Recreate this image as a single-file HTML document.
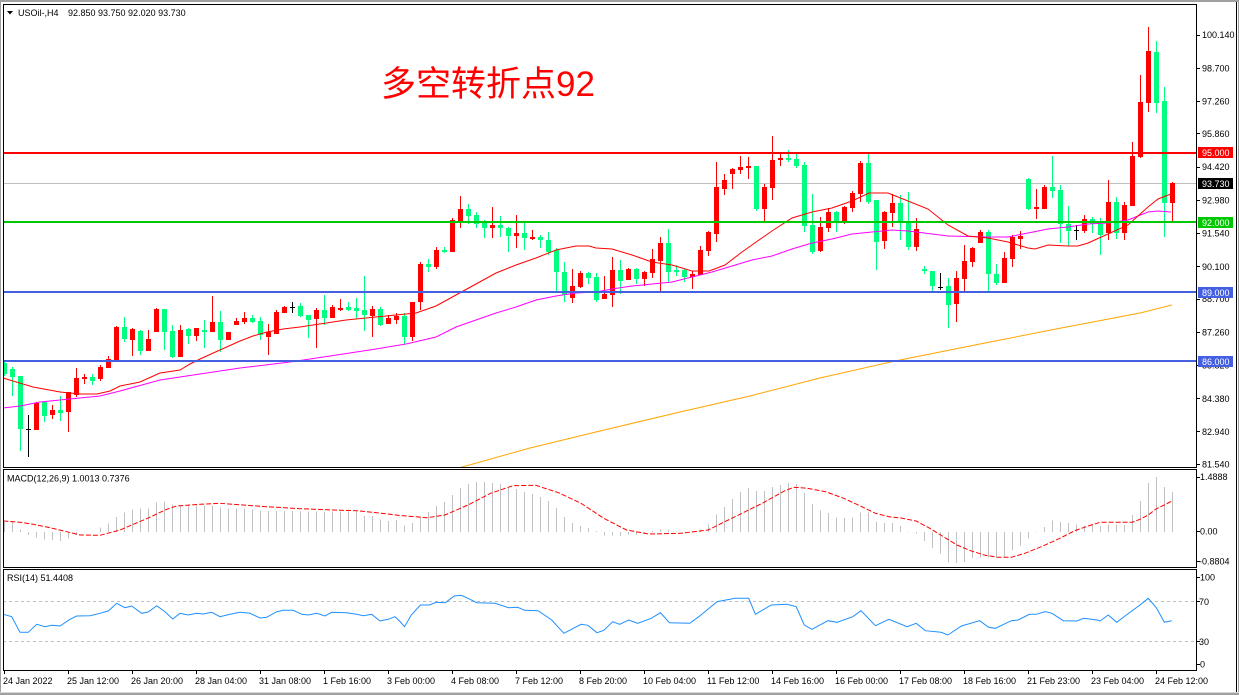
<!DOCTYPE html>
<html><head><meta charset="utf-8"><style>
html,body{margin:0;padding:0;background:#fff;width:1239px;height:695px;overflow:hidden}
svg{display:block}
text{font-family:"Liberation Sans",sans-serif;font-size:9px;fill:#000}
</style></head><body>
<svg width="1239" height="695" viewBox="0 0 1239 695" xmlns="http://www.w3.org/2000/svg">
<defs>
<clipPath id="mainc"><rect x="4" y="5" width="1192" height="462"/></clipPath>
<clipPath id="macdc"><rect x="4" y="470" width="1192" height="97"/></clipPath>
<clipPath id="rsic"><rect x="4" y="570" width="1192" height="100"/></clipPath>
</defs>
<rect width="1239" height="695" fill="#fff"/>
<rect x="0" y="0" width="1239" height="2" fill="#a0a0a0"/>
<rect x="0" y="0" width="1" height="695" fill="#a0a0a0"/>
<rect x="1238" y="0" width="1" height="695" fill="#a0a0a0"/>
<rect x="1236" y="2" width="1" height="691" fill="#000"/>
<rect x="0" y="692" width="1239" height="1" fill="#d8d8d8"/>
<rect x="0" y="693" width="1239" height="2" fill="#a0a0a0"/>

<g clip-path="url(#mainc)" shape-rendering="crispEdges">
<path d="M3 183.5H1196" stroke="#c0c0c0" stroke-width="1"/>
<path fill="#ff0000" d="M34 403h5v27h-5zM50 410h5v5h-5zM66 392h5v20h-5zM74 378h5v17h-5zM82 377h5v2h-5zM98 367h5v12h-5zM106 359h5v9h-5zM114 327h5v33h-5zM130 329h5v11h-5zM146 339h5v12h-5zM154 309h5v23h-5zM178 330h5v27h-5zM194 328h5v8h-5zM210 322h5v10h-5zM226 332h5v8h-5zM234 321h5v4h-5zM242 318h5v4h-5zM266 332h5v5h-5zM274 312h5v22h-5zM282 307h5v6h-5zM314 310h5v9h-5zM330 307h5v11h-5zM338 308h5v2h-5zM370 309h5v7h-5zM386 318h5v6h-5zM394 316h5v4h-5zM410 302h5v35h-5zM418 264h5v38h-5zM434 250h5v17h-5zM450 220h5v32h-5zM458 209h5v12h-5zM490 225h5v3h-5zM514 233h5v3h-5zM530 237h5v2h-5zM570 286h5v12h-5zM578 273h5v14h-5zM602 294h5v5h-5zM610 270h5v25h-5zM626 269h5v11h-5zM642 272h5v7h-5zM650 259h5v14h-5zM658 243h5v18h-5zM690 274h5v3h-5zM698 250h5v25h-5zM706 232h5v19h-5zM714 187h5v47h-5zM722 180h5v9h-5zM730 169h5v5h-5zM738 167h5v3h-5zM746 166h5v2h-5zM762 187h5v22h-5zM770 160h5v28h-5zM778 158h5v2h-5zM818 227h5v24h-5zM826 212h5v16h-5zM842 207h5v16h-5zM850 193h5v15h-5zM858 163h5v31h-5zM882 212h5v29h-5zM890 203h5v10h-5zM914 229h5v18h-5zM954 278h5v26h-5zM962 261h5v18h-5zM970 248h5v14h-5zM978 232h5v11h-5zM1002 258h5v25h-5zM1010 237h5v22h-5zM1018 236h5v3h-5zM1034 207h5v2h-5zM1042 187h5v22h-5zM1082 219h5v12h-5zM1106 202h5v31h-5zM1122 205h5v28h-5zM1130 156h5v50h-5zM1138 102h5v55h-5zM1146 51h5v52h-5zM1170 183h5v20h-5z"/>
<path stroke="#ff0000" stroke-width="1" fill="none" d="M36.5 402V430M52.5 405V419M68.5 392V432M76.5 368V397M84.5 374V384M100.5 365V381M108.5 356V368M116.5 326V360M132.5 328V356M148.5 330V351M156.5 308V332M180.5 325V357M196.5 328V341M212.5 296V332M228.5 332V340M236.5 318V325M244.5 312V324M268.5 324V355M276.5 310V334M284.5 306V313M316.5 308V348M332.5 305V318M340.5 299V311M372.5 306V337M388.5 315V324M396.5 313V324M412.5 302V341M420.5 262V310M436.5 247V269M452.5 218V252M460.5 196V228M492.5 207V238M516.5 215V248M532.5 230V240M572.5 269V303M580.5 271V288M604.5 276V299M612.5 257V307M628.5 268V280M644.5 271V286M652.5 249V278M660.5 237V291M692.5 271V289M700.5 246V275M708.5 231V256M716.5 162V242M724.5 174V195M732.5 168V189M740.5 156V174M748.5 157V179M764.5 184V222M772.5 136V200M780.5 153V166M820.5 217V252M828.5 208V232M844.5 206V224M852.5 191V212M860.5 161V202M884.5 211V249M892.5 194V227M916.5 218V251M956.5 271V322M964.5 245V291M972.5 247V267M980.5 230V243M1004.5 252V283M1012.5 235V267M1020.5 231V249M1036.5 189V219M1044.5 185V209M1084.5 215V233M1108.5 180V240M1124.5 202V240M1132.5 142V206M1140.5 75V158M1148.5 27V112M1172.5 182V222"/>
<path fill="#00ff7f" d="M2 363h5v11h-5zM10 369h5v8h-5zM18 376h5v53h-5zM42 402h5v14h-5zM58 410h5v3h-5zM90 377h5v4h-5zM122 327h5v12h-5zM138 331h5v20h-5zM162 309h5v23h-5zM170 331h5v26h-5zM186 329h5v7h-5zM202 330h5v2h-5zM218 322h5v18h-5zM250 318h5v4h-5zM258 321h5v14h-5zM298 306h5v10h-5zM306 315h5v5h-5zM322 310h5v8h-5zM346 307h5v3h-5zM354 308h5v3h-5zM362 310h5v5h-5zM378 309h5v16h-5zM402 316h5v21h-5zM426 264h5v3h-5zM442 250h5v2h-5zM466 209h5v7h-5zM474 215h5v9h-5zM482 222h5v6h-5zM498 225h5v3h-5zM506 228h5v8h-5zM522 233h5v5h-5zM538 237h5v3h-5zM546 240h5v12h-5zM554 250h5v22h-5zM562 272h5v23h-5zM586 273h5v5h-5zM594 277h5v23h-5zM618 270h5v11h-5zM634 269h5v10h-5zM666 243h5v29h-5zM674 270h5v2h-5zM682 270h5v7h-5zM754 166h5v43h-5zM786 158h5v2h-5zM794 159h5v7h-5zM802 165h5v61h-5zM810 225h5v27h-5zM834 212h5v11h-5zM866 163h5v39h-5zM874 200h5v42h-5zM898 203h5v19h-5zM906 222h5v25h-5zM922 269h5v2h-5zM930 271h5v15h-5zM946 286h5v19h-5zM986 232h5v42h-5zM994 274h5v9h-5zM1026 179h5v30h-5zM1050 187h5v4h-5zM1058 190h5v34h-5zM1066 224h5v7h-5zM1090 219h5v5h-5zM1098 224h5v11h-5zM1114 202h5v31h-5zM1154 52h5v51h-5zM1162 101h5v102h-5z"/>
<path stroke="#00ff7f" stroke-width="1" fill="none" d="M4.5 362V376M12.5 367V396M20.5 376V451M44.5 402V422M60.5 396V421M92.5 374V385M124.5 317V342M140.5 330V355M164.5 309V350M172.5 325V358M188.5 328V344M204.5 320V348M220.5 311V352M252.5 315V323M260.5 317V340M300.5 303V317M308.5 315V338M324.5 295V325M348.5 302V311M356.5 298V319M364.5 276V331M380.5 307V326M404.5 313V344M428.5 259V272M444.5 247V253M468.5 204V224M476.5 212V228M484.5 220V238M500.5 216V237M508.5 227V252M524.5 223V250M540.5 235V248M548.5 232V255M556.5 248V291M564.5 262V302M588.5 272V284M596.5 273V302M620.5 260V294M636.5 268V284M668.5 229V282M676.5 265V276M684.5 269V282M756.5 166V211M788.5 150V162M796.5 154V168M804.5 162V232M812.5 194V254M836.5 211V232M868.5 154V204M876.5 200V270M900.5 195V240M908.5 192V250M924.5 266V274M932.5 271V291M948.5 278V328M988.5 230V291M996.5 264V285M1028.5 178V210M1052.5 156V198M1060.5 185V243M1068.5 206V246M1092.5 217V233M1100.5 218V255M1116.5 197V239M1156.5 41V113M1164.5 87V237"/>
<path stroke="#000" stroke-width="1" fill="none" d="M28.5 415V457M26 429.5h5M292.5 302V313M290 307.5h5M940.5 273V290M938 287.5h5M1076.5 225V240M1074 230.5h5"/>
</g>

<g clip-path="url(#mainc)" fill="none" stroke-width="1">
<polyline stroke="#ffa500" points="455,469 530,448 600,431 680,412 750,396 820,378 895,361 980,344 1056,329 1140,313 1172,305"/>
<polyline stroke="#ff00ff" points="3,408 20,406 40,402 80,398 100,396 120,391 160,380 200,374 240,368 290,362 330,356 376,349 406,344 436,337 456,327 476,320 496,313 516,307 536,300 556,296 576,293 596,292 612,289 632,286 672,282 692,277 712,272 732,266 752,260 772,256 792,249 812,243 832,239 852,234 872,232 892,230 908,231 948,236 988,237 1008,237 1028,233 1048,229 1068,227 1088,224 1108,223 1128,220 1148,212 1158,211 1171,212"/>
<polyline stroke="#ff0000" points="3,378 33,387 60,392 80,394 97,394 110,391 120,386 140,382 160,373 180,370 190,364 200,359 220,350 240,341 253,336 267,332 283,329 300,327 346,320 396,315 416,313 436,306 456,295 476,284 496,273 516,265 536,258 556,250 576,246 589,246 596,248 612,249 632,255 652,262 672,265 692,271 709,271 725,265 742,252 759,240 772,231 792,218 812,212 832,208 852,201 869,193 888,193 908,201 928,209 948,225 968,236 988,238 1008,242 1028,248 1035,249 1048,245 1068,246 1078,246 1088,243 1108,234 1128,225 1148,207 1158,199 1171,194"/>
</g>

<g shape-rendering="crispEdges">
<rect x="3" y="152" width="1193" height="2" fill="#ff0000"/>
<rect x="3" y="221" width="1193" height="2" fill="#00c800"/>
<rect x="3" y="291" width="1193" height="2" fill="#4460e0"/>
<rect x="3" y="360" width="1193" height="2" fill="#4460e0"/>
</g>

<text x="381" y="96" style="font-family:'Liberation Sans','Noto Sans CJK SC',sans-serif;font-size:35px;fill:#ff0000">多空转折点92</text>

<polygon points="7,11 13,11 10,14.5" fill="#000"/>
<text x="18" y="16">USOil-,H4</text>
<text x="68" y="16">92.850 93.750 92.020 93.730</text>

<g clip-path="url(#macdc)">
<path stroke="#c0c0c0" stroke-width="1" fill="none" shape-rendering="crispEdges" d="M4.5 532V522M12.5 532V521M20.5 532V529.3M28.5 532V535M36.5 532V537.7M44.5 532V539.3M52.5 532V540M60.5 532V541M68.5 532V538.3M76.5 532V535M84.5 532V531.7M92.5 532V531.7M100.5 532V527.7M108.5 532V523.7M116.5 532V517M124.5 532V512.7M132.5 532V509.3M140.5 532V508.7M148.5 532V508.7M156.5 532V502.7M164.5 532V501.7M172.5 532V504.3M180.5 532V505.3M188.5 532V505.3M196.5 532V505.3M204.5 532V505.3M212.5 532V505.3M220.5 532V507.7M228.5 532V508.7M236.5 532V508.7M244.5 532V508.7M252.5 532V509.3M260.5 532V510.3M268.5 532V511M276.5 532V511M284.5 532V511M292.5 532V511M300.5 532V511.7M308.5 532V511.7M316.5 532V511.7M324.5 532V511.7M332.5 532V511.7M340.5 532V511.7M348.5 532V511.7M356.5 532V511.7M364.5 532V516M372.5 532V516M380.5 532V519.3M388.5 532V521M396.5 532V520M404.5 532V525.3M412.5 532V523M420.5 532V516.3M428.5 532V512M436.5 532V506M444.5 532V502M452.5 532V495M460.5 532V488M468.5 532V484M476.5 532V482M484.5 532V482M492.5 532V483M500.5 532V484M508.5 532V487M516.5 532V489M524.5 532V492M532.5 532V494M540.5 532V497M548.5 532V501M556.5 532V508M564.5 532V517M572.5 532V523M580.5 532V526M588.5 532V528M596.5 532V531M604.5 532V535.3M612.5 532V535.3M620.5 532V536M628.5 532V534.7M636.5 532V535M644.5 532V533.7M652.5 532V531M660.5 532V529.7M668.5 532V529.7M676.5 532V531M684.5 532V531.5M692.5 532V531M700.5 532V529.7M708.5 532V524.7M716.5 532V514.7M724.5 532V507M732.5 532V499M740.5 532V492M748.5 532V488M756.5 532V491M764.5 532V491M772.5 532V487M780.5 532V485M788.5 532V483M796.5 532V484M804.5 532V493M812.5 532V504M820.5 532V510.3M828.5 532V513M836.5 532V517.3M844.5 532V518M852.5 532V517.3M860.5 532V512.3M868.5 532V512.7M876.5 532V521.3M884.5 532V523M892.5 532V523M900.5 532V526M908.5 532V531.7M916.5 532V533.7M924.5 532V541M932.5 532V548M940.5 532V553.7M948.5 532V562.3M956.5 532V563M964.5 532V562M972.5 532V558M980.5 532V557.7M988.5 532V557.7M996.5 532V557.7M1004.5 532V556.3M1012.5 532V550.3M1020.5 532V545.3M1028.5 532V538.7M1036.5 532V531.3M1044.5 532V527M1052.5 532V520.3M1060.5 532V522M1068.5 532V523M1076.5 532V524.7M1084.5 532V525.3M1092.5 532V524.3M1100.5 532V526M1108.5 532V524.3M1116.5 532V524.3M1124.5 532V525M1132.5 532V515M1140.5 532V501M1148.5 532V483M1156.5 532V477M1164.5 532V487M1172.5 532V492"/>
<polyline fill="none" stroke="#ff0000" stroke-width="1" stroke-dasharray="5 2" points="3.3,521 20,522.3 33.3,524.3 50,527.7 66.7,531.7 80,535 100,535.3 110,532.7 120,530 133.3,524.3 146.7,518.7 156.7,514 166.7,509.3 176.7,506 200,504.3 220,503.3 233.3,504.3 266.7,506.7 300,508.7 333.3,510 356.7,510.7 376.7,512.7 400,515.5 427,517.7 445,515 468,505 490.6,493.3 513,485.7 535.8,485.3 558.5,492.7 581,503.3 603.8,518.3 626.4,530 649,534 680.7,533.3 708,530 735,516.7 762.2,503.3 785,490.7 793.9,487.3 807.5,488.3 825.6,491.7 843.7,498.3 861.9,506.7 875.4,513.3 889,516.7 902.6,518.3 916.2,521 929.8,528.3 943.4,536.7 957,545 970.5,550.7 984.1,555 997.7,557.3 1011.3,557.3 1024.9,553.3 1043,546 1061.1,537.7 1074.7,530.7 1088.3,526 1100,522.3 1132,522.3 1140,519.3 1148.3,515 1156,509 1164.3,505 1172,501"/>
</g>
<text x="7" y="481.5">MACD(12,26,9) 1.0013 0.7376</text>

<g clip-path="url(#rsic)">
<path d="M3 601.5H1196M3 641.5H1196" stroke="#c0c0c0" stroke-width="1" stroke-dasharray="3 3" shape-rendering="crispEdges"/>
<polyline fill="none" stroke="#1e90ff" stroke-width="1" points="3.3,614.3 11.7,616.7 20,632.3 28.3,632.3 36.7,624.3 45,626.7 51.7,625.3 60,626 70,619.3 76.7,616 90,615.7 100,613.3 108.3,611 116.7,603.3 125,607.7 131.7,606 141.7,613.3 148.3,612 156.7,605.7 165,611.7 172.7,619 180,613.3 188.3,615 196.7,613.3 203.3,614 211.7,612.3 220,616.7 230,614.3 240,612.3 250,613.3 260,618 266.7,617.3 276.7,611.7 283.3,610.3 293.3,610.3 301.7,614.3 308.3,615 316.7,613.3 325,616 331.7,612.3 346.7,612.7 356.7,614.3 363.3,615.7 371.7,614.3 380,621 388.3,619.3 395,616.7 400,621.5 404.5,626.7 411.3,615 420.4,605 429.4,605 436.2,602.3 445.3,602.7 454.3,596 461.1,595.3 467.9,598.3 477,602.7 495,603.3 508.7,607.7 517.7,607.3 524.5,610.3 538.1,610.7 551.7,620 563.9,633.3 581.1,624.3 587.9,625.3 597,632.7 603.8,630.3 612.8,621.7 619.6,624.3 628.7,620 637.7,623.3 651.3,618.3 660.4,612.7 669.4,622.7 689.8,623.3 698.8,616.7 717,601.7 735,598.3 748.7,598.3 755.4,614.3 771.3,605 787.1,604.3 796.2,606.7 804.3,625 812,629.3 827.9,620.7 837,622.3 852.8,616.7 861,610.7 875.4,625.7 889,619.3 907.1,626.7 916.2,623.3 925.3,630.7 941.1,632.3 947.9,635 961.5,626 979.6,620.7 988.6,627.3 995.4,628.3 1011.3,620.7 1018.1,620 1029.4,614.3 1036.2,614.3 1045.2,611.7 1052,613.3 1063.3,620.7 1076.9,621 1083.7,618.3 1097.3,620 1100,621 1108.3,615 1116.7,622.3 1125,616 1140,605 1148.3,598.3 1156.7,608.3 1164.3,622.3 1171.7,620.7"/>
</g>
<text x="7" y="581">RSI(14) 51.4408</text>

<g fill="none" stroke="#000" stroke-width="1" shape-rendering="crispEdges">
<path d="M3.5 4.5H1196.5V467.5H3.5Z"/>
<path d="M3.5 469.5H1196.5V567.5H3.5Z"/>
<path d="M3.5 569.5H1196.5V670.5H3.5Z"/>
<path d="M1196 35.5h4M1196 68.5h4M1196 101.5h4M1196 133.5h4M1196 167.5h4M1196 200.5h4M1196 233.5h4M1196 266.5h4M1196 299.5h4M1196 332.5h4M1196 365.5h4M1196 398.5h4M1196 431.5h4M1196 464.5h4M1196 477.5h4M1196 531.5h4M1196 561.5h4M1196 577.5h4M1196 601.5h4M1196 641.5h4M1196 664.5h4"/>
<path d="M4.5 671V674M68.5 671V674M132.5 671V674M196.5 671V674M260.5 671V674M324.5 671V674M388.5 671V674M452.5 671V674M516.5 671V674M580.5 671V674M644.5 671V674M708.5 671V674M772.5 671V674M836.5 671V674M900.5 671V674M964.5 671V674M1028.5 671V674M1092.5 671V674M1156.5 671V674"/>
</g>

<g>
<text x="1202" y="38.2">100.140</text>
<text x="1202" y="71.4">98.700</text>
<text x="1202" y="104.6">97.260</text>
<text x="1202" y="136.9">95.860</text>
<text x="1202" y="170.2">94.420</text>
<text x="1202" y="203.4">92.980</text>
<text x="1202" y="236.6">91.540</text>
<text x="1202" y="269.8">90.100</text>
<text x="1202" y="302.1">88.700</text>
<text x="1202" y="335.3">87.260</text>
<text x="1202" y="368.5">85.820</text>
<text x="1202" y="401.8">84.380</text>
<text x="1202" y="435">82.940</text>
<text x="1202" y="467.3">81.540</text>
<text x="1200" y="480">1.4888</text>
<text x="1200" y="534.3">0.00</text>
<text x="1199" y="564.3">-0.8804</text>
<text x="1200" y="580.5">100</text>
<text x="1199" y="605">70</text>
<text x="1199" y="645">30</text>
<text x="1200" y="667.3">0</text>
</g>
<g shape-rendering="crispEdges">
<rect x="1198" y="147" width="35" height="11" fill="#ff0000"/>
<rect x="1198" y="178" width="35" height="11" fill="#000"/>
<rect x="1198" y="217" width="35" height="11" fill="#00c800"/>
<rect x="1198" y="287" width="35" height="11" fill="#4460e0"/>
<rect x="1198" y="356" width="35" height="11" fill="#4460e0"/>
</g>
<g>
<text x="1202" y="156" style="fill:#fff">95.000</text>
<text x="1202" y="187" style="fill:#fff">93.730</text>
<text x="1202" y="226" style="fill:#fff">92.000</text>
<text x="1202" y="296" style="fill:#fff">89.000</text>
<text x="1202" y="365" style="fill:#fff">86.000</text>
</g>

<g>
<text x="3" y="684">24 Jan 2022</text>
<text x="67" y="684">25 Jan 12:00</text>
<text x="131" y="684">26 Jan 20:00</text>
<text x="195" y="684">28 Jan 04:00</text>
<text x="259" y="684">31 Jan 08:00</text>
<text x="323" y="684">1 Feb 16:00</text>
<text x="387" y="684">3 Feb 00:00</text>
<text x="451" y="684">4 Feb 08:00</text>
<text x="515" y="684">7 Feb 12:00</text>
<text x="579" y="684">8 Feb 20:00</text>
<text x="643" y="684">10 Feb 04:00</text>
<text x="707" y="684">11 Feb 12:00</text>
<text x="771" y="684">14 Feb 16:00</text>
<text x="835" y="684">16 Feb 00:00</text>
<text x="899" y="684">17 Feb 08:00</text>
<text x="963" y="684">18 Feb 16:00</text>
<text x="1027" y="684">21 Feb 23:00</text>
<text x="1091" y="684">23 Feb 04:00</text>
<text x="1155" y="684">24 Feb 12:00</text>
</g>
</svg>
</body></html>
